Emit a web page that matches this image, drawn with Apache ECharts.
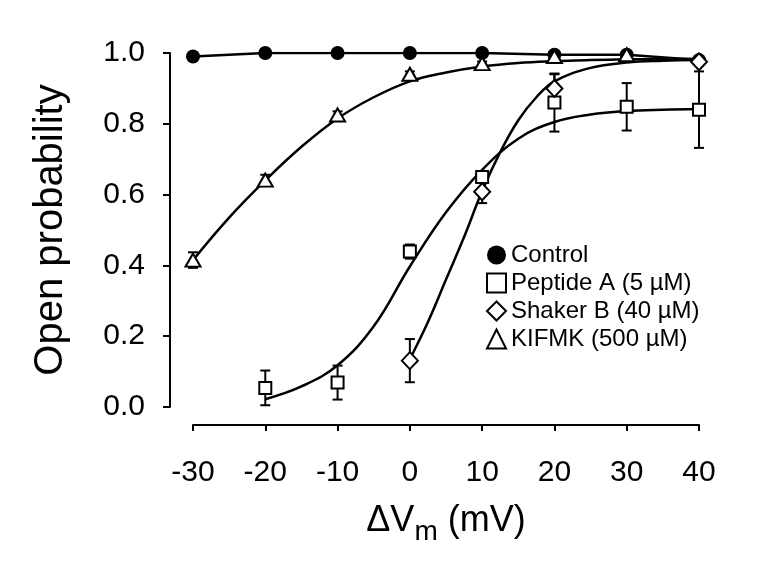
<!DOCTYPE html>
<html>
<head>
<meta charset="utf-8">
<script src="https://cdn.jsdelivr.net/npm/echarts@6/dist/echarts.min.js"></script>
<style>
html,body{margin:0;padding:0;background:#fff;}
#c{width:759px;height:564px;}
</style>
</head>
<body>
<div id="c"></div>
<script>
// ---- data ----
const xTicks = [-30, -20, -10, 0, 10, 20, 30, 40];
const yTicks = [0.0, 0.2, 0.4, 0.6, 0.8, 1.0];

const controlX = [-30, -20, -10, 0, 10, 20, 30, 40];
const controlY = [0.99, 1.0, 1.0, 1.0, 1.0, 0.995, 0.995, 0.98];

const peptideX = [-20, -10, 0, 10, 20, 30, 40];
const peptideY = [0.054, 0.069, 0.439, 0.65, 0.86, 0.848, 0.84];
const peptideErr = [0.049, 0.048, 0.02, 0.015, 0.082, 0.067, 0.108];

const shakerX = [0, 10, 20, 40];
const shakerY = [0.131, 0.608, 0.90, 0.975];
const shakerErr = [0.061, 0.032, 0.04, 0.0];

const kifmkX = [-30, -20, -10, 0, 10, 20, 30];
const kifmkY = [0.415, 0.641, 0.825, 0.94, 0.97, 0.99, 0.995];
const kifmkErr = [0.022, 0.015, 0.01, 0.008, 0.006, 0.004, 0.004];

// fitted curves
const fitKX = [-30, -25, -20, -15, -10, -5, 0, 5, 10, 15, 20, 25, 30, 35, 40];
const fitKY = [0.415, 0.535, 0.64, 0.735, 0.815, 0.875, 0.92, 0.945, 0.962, 0.972, 0.977, 0.98, 0.982, 0.983, 0.984];

const fitPX = [-20, -15, -10, -5, 0, 5, 10, 15, 20, 25, 30, 35, 40];
const fitPY = [0.022, 0.058, 0.118, 0.228, 0.397, 0.55, 0.67, 0.758, 0.805, 0.826, 0.836, 0.84, 0.842];

const fitSX = [0, 2.5, 5, 7.5, 10, 12.5, 15, 17.5, 20, 25, 30, 35, 40];
const fitSY = [0.135, 0.24, 0.36, 0.48, 0.61, 0.72, 0.81, 0.875, 0.92, 0.958, 0.973, 0.978, 0.98];

const names = ['Control', 'Peptide A (5 µM)', 'Shaker B (40 µM)', 'KIFMK (500 µM)'];

// ---- helpers ----
const zip = (xs, ys) => xs.map((x, i) => [x, ys[i]]);
const errData = (xs, ys, es) => xs.map((x, i) => [x, ys[i] - es[i], ys[i] + es[i]]).filter(d => d[2] > d[1]);

const FONT = 'Liberation Sans';
const BLACK = '#000';

function errSeries(data) {
  return {
    type: 'custom',
    silent: true,
    z: 3,
    data: data,
    renderItem: function (params, api) {
      const x = api.value(0);
      const lo = api.coord([x, api.value(1)]);
      const hi = api.coord([x, api.value(2)]);
      const hw = 5;
      const st = { stroke: BLACK, lineWidth: 2 };
      return {
        type: 'group',
        children: [
          { type: 'line', shape: { x1: lo[0], y1: lo[1], x2: hi[0], y2: hi[1] }, style: st },
          { type: 'line', shape: { x1: lo[0] - hw, y1: lo[1], x2: lo[0] + hw, y2: lo[1] }, style: st },
          { type: 'line', shape: { x1: hi[0] - hw, y1: hi[1], x2: hi[0] + hw, y2: hi[1] }, style: st }
        ]
      };
    }
  };
}

function curve(xs, ys, smooth) {
  return {
    type: 'line',
    data: zip(xs, ys),
    symbol: 'none',
    smooth: smooth,
    silent: true,
    z: 2,
    lineStyle: { color: BLACK, width: 2.5 }
  };
}

const openSym = { color: '#fff', borderColor: BLACK, borderWidth: 2, opacity: 1 };

const option = {
  animation: false,
  backgroundColor: '#fff',
  grid: { left: 193, right: 60, top: 53, bottom: 157, containLabel: false },
  legend: {
    data: names,
    orient: 'vertical',
    left: 481,
    top: 238,
    itemWidth: 19,
    itemHeight: 19,
    itemGap: 4,
    selectedMode: false,
    textStyle: { fontFamily: FONT, fontSize: 24, color: BLACK, lineHeight: 24 }
  },
  xAxis: {
    type: 'value',
    min: -30, max: 40, interval: 10,
    offset: 18,
    name: '{a|ΔV}{b|m}{a| (mV)}',
    nameLocation: 'middle',
    nameGap: 78,
    nameTextStyle: {
      rich: {
        a: { fontFamily: FONT, fontSize: 36, lineHeight: 36, color: BLACK, verticalAlign: 'top' },
        b: { fontFamily: FONT, fontSize: 28, lineHeight: 28, color: BLACK, verticalAlign: 'top', padding: [15, 0, 0, 0] }
      }
    },
    axisLine: { show: true, onZero: false, lineStyle: { color: BLACK, width: 2 } },
    axisTick: { show: true, length: 6, lineStyle: { color: BLACK, width: 2 } },
    axisLabel: {
      margin: 33, fontFamily: FONT, fontSize: 30, color: BLACK,
      formatter: v => String(xTicks.find(t => Math.abs(t - v) < 1e-9) ?? v)
    },
    splitLine: { show: false }
  },
  yAxis: {
    type: 'value',
    min: 0, max: 1, interval: 0.2,
    offset: 23,
    name: 'Open probability',
    nameLocation: 'middle',
    nameGap: 99,
    nameTextStyle: { fontFamily: FONT, fontSize: 40, color: BLACK },
    axisLine: { show: true, onZero: false, lineStyle: { color: BLACK, width: 2 } },
    axisTick: { show: true, length: 7, lineStyle: { color: BLACK, width: 2 } },
    axisLabel: {
      margin: 25, fontFamily: FONT, fontSize: 30, color: BLACK, padding: [6, 0, 0, 0],
      formatter: v => {
        const t = yTicks.find(t => Math.abs(t - v) < 1e-9);
        return (t !== undefined ? t : v).toFixed(1);
      }
    },
    splitLine: { show: false }
  },
  series: [
    curve(fitKX, fitKY, 0.4),
    curve(fitPX, fitPY, 0.4),
    curve(fitSX, fitSY, 0.4),
    curve(controlX, controlY, false),
    errSeries(errData(peptideX, peptideY, peptideErr)),
    errSeries(errData(shakerX, shakerY, shakerErr)),
    errSeries(errData(kifmkX, kifmkY, kifmkErr)),
    {
      name: names[0], type: 'scatter', z: 5, data: zip(controlX, controlY),
      symbol: 'circle', symbolSize: 14,
      itemStyle: { color: BLACK, borderColor: BLACK, borderWidth: 0, opacity: 1 }
    },
    {
      name: names[1], type: 'scatter', z: 5, data: zip(peptideX, peptideY),
      symbol: 'rect', symbolSize: 12, itemStyle: openSym
    },
    {
      name: names[2], type: 'scatter', z: 5, data: zip(shakerX, shakerY),
      symbol: 'diamond', symbolSize: [16, 17], itemStyle: openSym
    },
    {
      name: names[3], type: 'scatter', z: 5, data: zip(kifmkX, kifmkY),
      symbol: 'triangle', symbolSize: [15, 13], itemStyle: openSym
    }
  ]
};

const chart = echarts.init(document.getElementById('c'), null, { renderer: 'canvas' });
chart.setOption(option);
</script>
</body>
</html>
